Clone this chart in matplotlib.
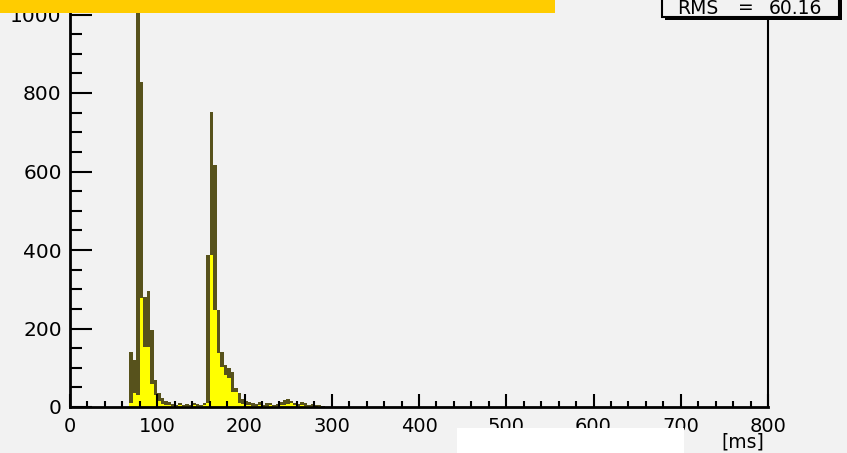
import numpy as np
import matplotlib
matplotlib.use("Agg")
from matplotlib import pyplot as plt
from matplotlib.patches import Rectangle
from matplotlib.ticker import MultipleLocator

plt.rcParams['font.family'] = ['DejaVu Sans']

# 4 ms bins from 0 to 800 ms, filled from bin 17 (68 ms) onwards
bin_width = 4
n_bins = 200
first_bin = 17
counts_all = [140, 120, 1060, 829, 280, 295, 196, 68, 35, 22, 15,
              12, 8, 6, 10, 5, 8, 6, 9, 7, 5, 10,
              387, 752, 617, 247, 141, 107, 100, 90, 48, 35, 20,
              15, 12, 10, 8, 14, 6, 9, 11, 5, 8, 13, 18, 20, 16,
              10, 7, 12, 9, 6, 8, 4, 5, 3]
counts_sel = [10, 35, 30, 277, 153, 153, 58, 30, 15, 8, 6,
              6, 3, 2, 4, 2, 3, 2, 4, 3, 2, 4,
              10, 387, 247, 137, 103, 81, 74, 39, 39, 10, 8,
              6, 4, 3, 3, 5, 2, 3, 4, 2, 3, 5, 6, 8, 10,
              4, 2, 4, 3, 2, 3, 1, 2, 1]
rms_text = "60.16"

edges = np.arange(n_bins + 1) * bin_width
h_all = np.zeros(n_bins)
h_sel = np.zeros(n_bins)
h_all[first_bin:first_bin + len(counts_all)] = counts_all
h_sel[first_bin:first_bin + len(counts_sel)] = counts_sel

bg = '#f2f2f2'
fig = plt.figure(figsize=(8.47, 4.53), dpi=100, facecolor=bg)
W, H = 847, 453
ymax = 1100
ax = fig.add_axes([70 / W, 46 / H, 698 / W, ymax * 0.3925 / H])
ax.set_facecolor(bg)

ax.stairs(h_all, edges, fill=True, color='#57521c', lw=0)
ax.stairs(h_sel, edges, fill=True, color='#ffff00', lw=0)

ax.set_xlim(0, 800)
ax.set_ylim(0, ymax)
ax.xaxis.set_major_locator(MultipleLocator(100))
ax.xaxis.set_minor_locator(MultipleLocator(20))
ax.yaxis.set_minor_locator(MultipleLocator(50))
ax.set_yticks(np.arange(0, 1001, 200))

ax.tick_params(axis='y', which='major', direction='in', length=16, width=1.5, pad=6, labelsize=14.5)
ax.tick_params(axis='y', which='minor', direction='in', length=8.5, width=1.5)
ax.tick_params(axis='x', which='major', direction='in', length=9.5, width=1.5, pad=7, labelsize=14)
ax.tick_params(axis='x', which='minor', direction='in', length=4.5, width=1.5)

ax.spines['top'].set_visible(False)
ax.spines['left'].set_linewidth(2)
ax.spines['bottom'].set_linewidth(2)
ax.spines['right'].set_linewidth(1.5)

# title pad and stats box along the top edge
fig.patches.append(Rectangle((0, 1 - 13 / H), 555 / W, 13 / H, transform=fig.transFigure,
                             facecolor='#ffcc00', edgecolor='none', zorder=5))
fig.patches.append(Rectangle((665 / W, 1 - 20 / H), 177 / W, 22 / H, transform=fig.transFigure,
                             facecolor='black', edgecolor='none', zorder=5))
fig.patches.append(Rectangle((662 / W, 1 - 17 / H), 177 / W, 20 / H, transform=fig.transFigure,
                             facecolor=bg, edgecolor='black', lw=1.5, zorder=6))
fig.text(677 / W, 1 - 8 / H, "RMS", fontsize=13.5, va='center', ha='left', zorder=7)
fig.text(746 / W, 1 - 8 / H, "=", fontsize=13.5, va='center', ha='center', zorder=7)
fig.text(822 / W, 1 - 8 / H, rms_text, fontsize=13.5, va='center', ha='right', zorder=7)

fig.text(764 / W, 1 / H, "[ms]", fontsize=13.5, va='bottom', ha='right')
fig.patches.append(Rectangle((457 / W, 0), 227 / W, 25 / H, transform=fig.transFigure,
                             facecolor='white', edgecolor='none', zorder=5))

fig.savefig('out.png', dpi=100, facecolor=bg)
